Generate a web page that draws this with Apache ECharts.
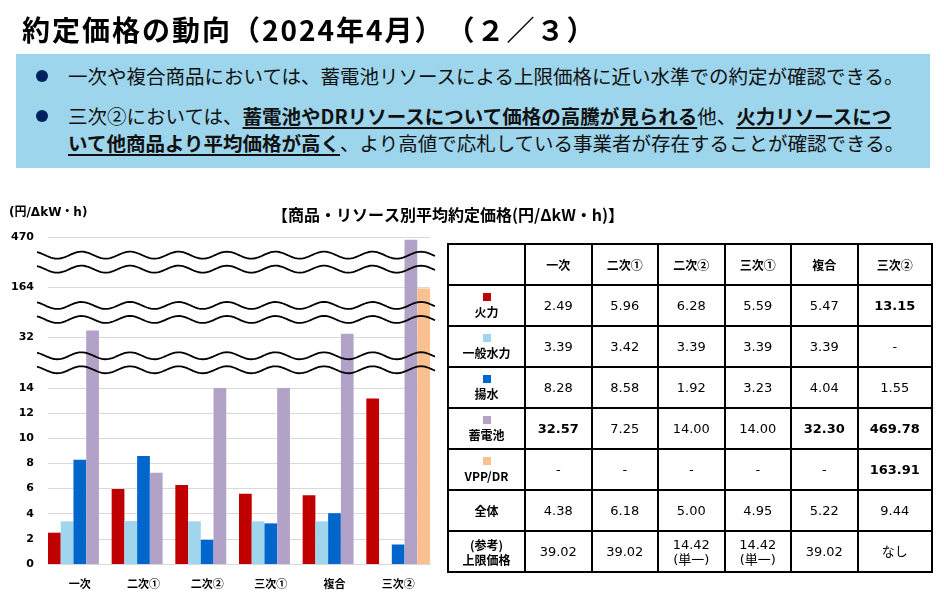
<!DOCTYPE html>
<html>
<head>
<meta charset="utf-8">
<script src="https://cdn.jsdelivr.net/npm/echarts@6.0.0/dist/echarts.min.js"></script>
<style>
    body{margin:0;width:944px;height:600px;position:relative;overflow:hidden;background:#fff;
        font-family:"Noto Sans CJK JP",sans-serif;color:#111}
    #chart{position:absolute;left:0;top:0;width:944px;height:600px}
    #ttl{position:absolute;left:22px;top:11px;font-size:28px;letter-spacing:2px;font-weight:bold;line-height:36px;white-space:nowrap;color:#000}
    #box{position:absolute;left:16px;top:54px;width:914px;height:114px;background:#9dd5ec}
    .blt{position:absolute;left:52px;font-size:19.5px;line-height:27px;white-space:nowrap}
    .dot{position:absolute;left:-32px;top:8px;width:12px;height:12px;border-radius:50%;background:#002060}
    .blt b{text-decoration:underline;text-decoration-thickness:2px;text-underline-offset:3px}
    #tbl{position:absolute;left:447px;top:243px;border-collapse:collapse;table-layout:fixed;width:484px}
    #tbl td{border:2px solid #000;height:39px;text-align:center;padding:0;
        font-family:"DejaVu Sans","Noto Sans CJK JP",sans-serif;font-size:13px;color:#000;line-height:15px}
    #tbl td.hd{font-family:"Noto Sans CJK JP",sans-serif;font-weight:bold;font-size:12px}
    #tbl td.b{font-weight:bold}
    .sw{width:8px;height:8px;margin:0 auto 3px auto}
</style>
</head>
<body>
<div id="chart"></div>
<div id="ttl">約定価格の動向（2024年4月）　（２／３）</div>
<div id="box">
    <div class="blt" style="top:8px"><span class="dot"></span>一次や複合商品においては、蓄電池リソースによる上限価格に近い水準での約定が確認できる。</div>
    <div class="blt" style="top:48px"><span class="dot"></span>三次②においては、<b>蓄電池やDRリソースについて価格の高騰が見られる</b>他、<b>火力リソースにつ</b><br><b>いて他商品より平均価格が高く</b>、より高値で応札している事業者が存在することが確認できる。</div>
</div>
<table id="tbl"></table>
<script>
    var categories = ['一次', '二次①', '二次②', '三次①', '複合', '三次②'];
    var resources = ['火力', '一般水力', '揚水', '蓄電池', 'VPP/DR'];
    var thermal = [2.49, 5.96, 6.28, 5.59, 5.47, 13.15];
    var hydro = [3.39, 3.42, 3.39, 3.39, 3.39, null];
    var pumped = [8.28, 8.58, 1.92, 3.23, 4.04, 1.55];
    var battery = [32.57, 7.25, 14.00, 14.00, 32.30, 469.78];
    var vppdr = [null, null, null, null, null, 163.91];
    var overall = [4.38, 6.18, 5.00, 4.95, 5.22, 9.44];
    var capPrice = ['39.02', '39.02', '14.42<br>(単一)', '14.42<br>(単一)', '39.02', 'なし'];
    var boldCells = {'火力': [5], '蓄電池': [0, 4, 5], 'VPP/DR': [5]};
    var yTicks = [0, 2, 4, 6, 8, 10, 12, 14, 32, 164, 470];
    var yBreaks = [[15, 31], [33, 163], [165, 469]];
    var colors = ['#c00000', '#9fd6ed', '#0066cc', '#b2a2c8', '#fac090'];

    var seriesData = [thermal, hydro, pumped, battery, vppdr];

    // 表
    var html = '<colgroup><col style="width:77px">';
    for (var c = 0; c < 5; c++) html += '<col style="width:66.5px">';
    html += '<col style="width:74.5px"></colgroup>';
    html += '<tr><td class="hd"></td>';
    categories.forEach(function (c) { html += '<td class="hd">' + c + '</td>'; });
    html += '</tr>';
    resources.forEach(function (r, i) {
        html += '<tr><td class="hd"><div class="sw" style="background:' + colors[i] + '"></div>' + r + '</td>';
        seriesData[i].forEach(function (v, j) {
            var b = (boldCells[r] || []).indexOf(j) >= 0;
            html += '<td' + (b ? ' class="b"' : '') + '>' + (v == null ? '-' : v.toFixed(2)) + '</td>';
        });
        html += '</tr>';
    });
    html += '<tr><td class="hd">全体</td>';
    overall.forEach(function (v) { html += '<td>' + v.toFixed(2) + '</td>'; });
    html += '</tr><tr><td class="hd">(参考)<br>上限価格</td>';
    capPrice.forEach(function (v) { html += '<td>' + v + '</td>'; });
    html += '</tr>';
    document.getElementById('tbl').innerHTML = html;

    // グラフ
    var chart = echarts.init(document.getElementById('chart'));
    var option = {
        animation: false,
        grid: {left: 48, right: 514, top: 237, bottom: 36},
        xAxis: {
            type: 'category',
            data: categories,
            axisLine: {lineStyle: {color: '#d9d9d9'}},
            axisTick: {show: false},
            axisLabel: {color: '#000', fontWeight: 'bold', fontSize: 11, margin: 14,
                fontFamily: 'Noto Sans CJK JP'}
        },
        yAxis: {
            type: 'value',
            min: 0,
            max: 470,
            breaks: yBreaks.map(function (b) { return {start: b[0], end: b[1], gap: 2}; }),
            breakArea: {show: false},
            axisLine: {show: false},
            axisTick: {show: false, customValues: yTicks},
            axisLabel: {customValues: yTicks, color: '#000', fontWeight: 'bold', fontSize: 11,
                margin: 14, fontFamily: 'DejaVu Sans'},
            splitLine: {lineStyle: {color: '#d9d9d9'}}
        },
        series: resources.map(function (r, i) {
            return {
                name: r,
                type: 'bar',
                data: seriesData[i],
                barGap: '0%',
                barCategoryGap: '0%',
                itemStyle: {color: colors[i]}
            };
        })
    };
    chart.setOption(option);

    // 波線と見出し
    var graphics = [
        {type: 'text', left: 9, top: 207, style: {text: '(円/ΔkW・h)', fontSize: 12, fontWeight: 'bold',
            fill: '#000', fontFamily: 'DejaVu Sans, Noto Sans CJK JP'}},
        {type: 'text', x: 448, y: 215, style: {text: '【商品・リソース別平均約定価格(円/ΔkW・h)】', fontSize: 16,
            fontWeight: 'bold', fill: '#000', align: 'center', verticalAlign: 'middle',
            fontFamily: 'Noto Sans CJK JP'}}
    ];
    yBreaks.forEach(function (b) {
        var y0 = chart.convertToPixel({yAxisIndex: 0}, b[0]);
        var y1 = chart.convertToPixel({yAxisIndex: 0}, b[1]);
        var mid = (y0 + y1) / 2;
        [-7, 7].forEach(function (off) {
            var pts = [];
            for (var x = 37; x <= 436; x += 2) {
                pts.push([x, mid + off - 3.5 * Math.cos(2 * Math.PI * (x - 33) / 48.5)]);
            }
            graphics.push({type: 'polyline', shape: {points: pts}, z: 100,
                style: {stroke: '#000', lineWidth: 1.8, fill: null}});
        });
    });
    chart.setOption({graphic: graphics});
</script>
</body>
</html>
